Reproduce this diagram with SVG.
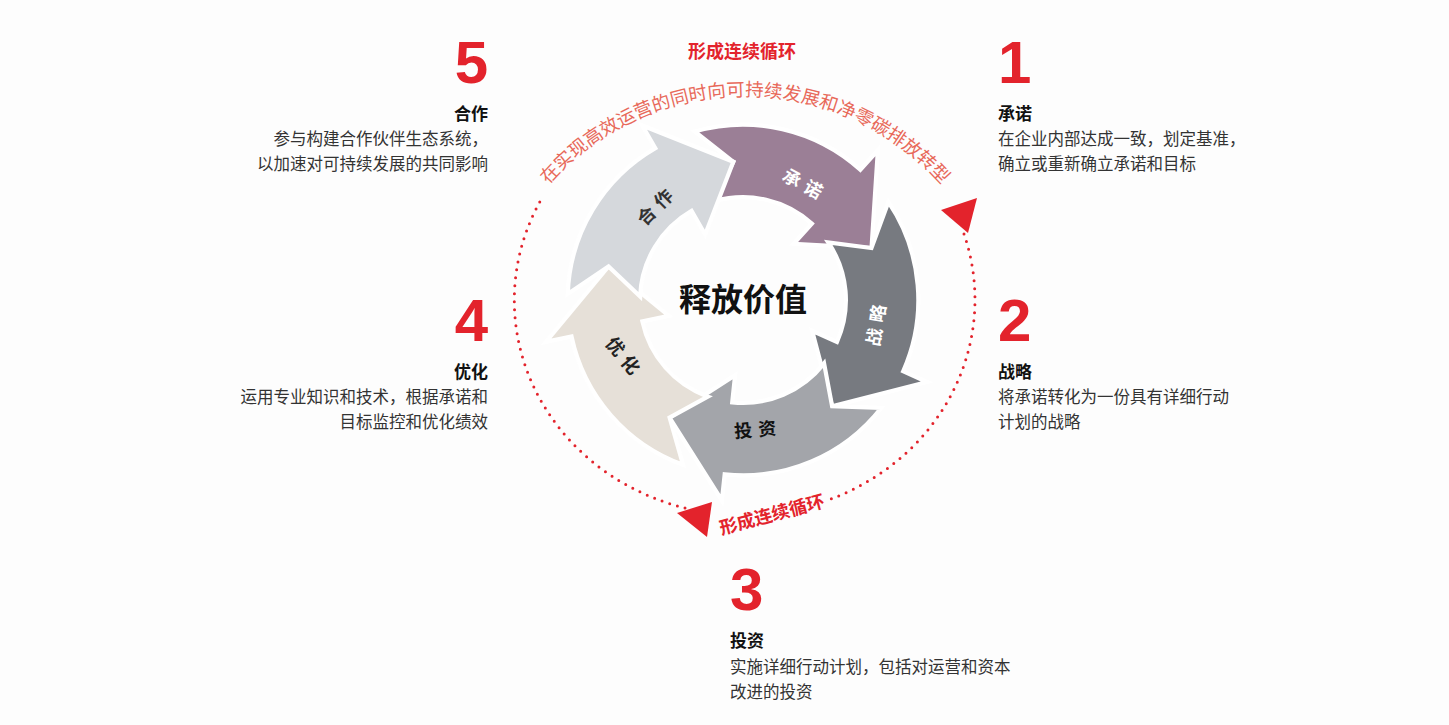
<svg xmlns="http://www.w3.org/2000/svg" width="1449" height="725" viewBox="0 0 1449 725">
<style>
.num{font-family:"Liberation Sans","Noto Sans CJK SC",sans-serif;font-weight:bold;font-size:60px;fill:#e3232c}
.ttl{font-family:"Noto Sans CJK SC",sans-serif;font-weight:bold;font-size:17px;fill:#111}
.txt{font-family:"Noto Sans CJK SC",sans-serif;font-size:16.5px;fill:#333}
.lbl{font-family:"Noto Sans CJK SC",sans-serif;font-weight:bold;font-size:18px;fill:#fff;text-anchor:middle;dominant-baseline:central;letter-spacing:6px}
.red{font-family:"Noto Sans CJK SC",sans-serif;font-weight:bold;font-size:18px;fill:#e3232c;text-anchor:middle}
.arw{stroke:#fff;stroke-width:4;stroke-linejoin:miter}
</style>
<defs>
<path id="seg" d="M167,0 A167,167 0 0 1 88.5,141.6 L101.7,162.8 L13.8,131.3 L38.2,61.1 L51.9,83.1 A98,98 0 0 0 98,0 L129.1,27.4 Z"/>
<path id="arc" d="M499,268 A262,262 0 0 1 991,268"/>
</defs>
<rect width="1449" height="725" fill="#fdfdfd"/>
<g id="connectors">
<path d="M964,234 A230,215 0 0 1 831,499" fill="none" stroke="#e3232c" stroke-width="3" stroke-dasharray="0 8" stroke-linecap="round"/>
<path d="M685,508 A230,215 0 0 1 542,198" fill="none" stroke="#e3232c" stroke-width="3" stroke-dasharray="0 8" stroke-linecap="round"/>
<polygon points="941,210 977,198 968,233" fill="#e3232c"/>
<polygon points="677,513 712,502 707,537" fill="#e3232c"/>
<text class="red" x="772" y="521" transform="rotate(-15 772 515)">形成连续循环</text>
<text class="red" x="742" y="58">形成连续循环</text>
<text font-family="Noto Sans CJK SC,sans-serif" font-size="18.5" fill="#e8695a"><textPath href="#arc" startOffset="50%" text-anchor="middle">在实现高效运营的同时向可持续发展和净零碳排放转型</textPath></text>
</g>
<g id="cycle">
<g transform="translate(743,300) scale(1.05)">
<use href="#seg" class="arw" fill="#9b7f96" transform="rotate(-106)"/>
<use href="#seg" class="arw" fill="#777a80" transform="rotate(-34)"/>
<use href="#seg" class="arw" fill="#a3a5aa" transform="rotate(38)"/>
<use href="#seg" class="arw" fill="#e6e0d8" transform="rotate(110)"/>
<use href="#seg" class="arw" fill="#d5d8dc" transform="rotate(182)"/>
</g>
<text class="lbl" transform="translate(806,184) rotate(28)">承诺</text>
<text class="lbl" transform="translate(875,322) rotate(-81)">战略</text>
<text class="lbl" style="fill:#111" transform="translate(758,428) rotate(-5)">投资</text>
<text class="lbl" style="fill:#222" transform="translate(626,357) rotate(50)">优化</text>
<text class="lbl" style="fill:#333" transform="translate(656,204) rotate(-45)">合作</text>
<text x="743" y="311" text-anchor="middle" font-family="Noto Sans CJK SC,sans-serif" font-weight="bold" font-size="32" fill="#111">释放价值</text>
</g>
<g id="n5" text-anchor="end">
<text class="num" x="488" y="83">5</text>
<text class="ttl" x="488" y="120">合作</text>
<text class="txt" x="488" y="145">参与构建合作伙伴生态系统，</text>
<text class="txt" x="488" y="170">以加速对可持续发展的共同影响</text>
</g>
<g id="n1">
<text class="num" x="998" y="83">1</text>
<text class="ttl" x="998" y="120">承诺</text>
<text class="txt" x="998" y="145">在企业内部达成一致，划定基准，</text>
<text class="txt" x="998" y="170">确立或重新确立承诺和目标</text>
</g>
<g id="n4" text-anchor="end">
<text class="num" x="488" y="341">4</text>
<text class="ttl" x="488" y="378">优化</text>
<text class="txt" x="488" y="403">运用专业知识和技术，根据承诺和</text>
<text class="txt" x="488" y="428">目标监控和优化绩效</text>
</g>
<g id="n2">
<text class="num" x="998" y="341">2</text>
<text class="ttl" x="998" y="378">战略</text>
<text class="txt" x="998" y="403">将承诺转化为一份具有详细行动</text>
<text class="txt" x="998" y="428">计划的战略</text>
</g>
<g id="n3">
<text class="num" x="730" y="610">3</text>
<text class="ttl" x="730" y="647">投资</text>
<text class="txt" x="730" y="673">实施详细行动计划，包括对运营和资本</text>
<text class="txt" x="730" y="698">改进的投资</text>
</g>
</svg>
